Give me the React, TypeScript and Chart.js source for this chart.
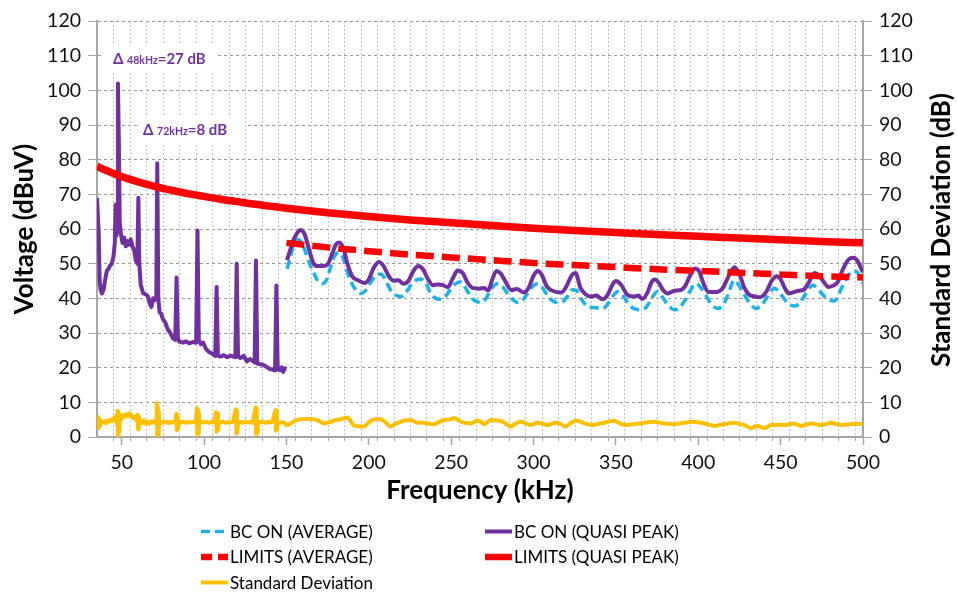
import React, { useEffect, useRef } from "react";
import { Chart, registerables } from "chart.js";

Chart.register(...registerables);

const FONT = "Lato, 'Open Sans', 'DejaVu Sans', sans-serif";

const PURPLE = "#7030A0";
const BLUE = "#1DB1EC";
const RED = "#FF0000";
const YELLOW = "#FFC000";

// Frequency axis (kHz)
const FREQ_MIN = 35;
const FREQ_MAX = 500;
const FREQ_TICKS = [50, 100, 150, 200, 250, 300, 350, 400, 450, 500];
const FREQ_MINOR_GRID = [
  45, 55, 65, 75, 85, 95, 105, 115, 125, 135, 145, 155, 165, 175, 185, 195,
  205, 215, 225, 235, 245, 255, 265, 275, 285, 295, 305, 315, 325, 335, 345,
  355, 365, 375, 385, 395, 405, 415, 425, 435, 445, 455, 465, 475, 485, 495,
];
// Level axes (dBuV left, dB right)
const LEVEL_TICKS = [0, 10, 20, 30, 40, 50, 60, 70, 80, 90, 100, 110, 120];

// BC ON quasi-peak, 35–150 kHz: switching harmonics every 12 kHz
const qpLowBand: [number, number][] = [
  [35, 69], [35.6, 69], [36.1, 58], [36.6, 45], [37.2, 42.5], [38, 41.4],
  [39, 42.5], [40, 45.5], [41, 48], [42, 48.5], [43, 49.5], [44, 50],
  [45, 52], [45.8, 56], [46.3, 67], [46.8, 58], [47.2, 60], [47.7, 102],
  [48.3, 84], [48.8, 62], [49.5, 58.5], [50.5, 56], [51.5, 57.5], [52.5, 55],
  [53.5, 56.5], [54.5, 55.5], [55.5, 57], [56.5, 55], [57.5, 54], [58.5, 51],
  [59.5, 50], [60.1, 69], [60.7, 50], [61.5, 44], [63, 41.5], [64, 41.3],
  [65, 41], [66, 40.5], [67, 38.5], [68, 37.5], [69, 40], [70, 39.5],
  [71, 40.5], [71.6, 79], [72.2, 40], [73, 36], [74, 35.5], [75, 34],
  [76.5, 33], [78, 31], [79.5, 30], [81, 28.5], [82.5, 28], [83.3, 46],
  [84.1, 28.5], [85, 27.5], [87, 27.2], [89, 27.6], [91, 27], [93, 27.4],
  [95.2, 27.2], [96, 59.6], [96.8, 28], [98, 26.8], [99.5, 27.2], [101, 25.5],
  [103, 24.5], [105, 24], [106.8, 23.4], [107.6, 43.3], [108.4, 23.4],
  [110, 23.2], [112, 23.6], [114, 23], [116, 23.5], [119, 23], [119.8, 50],
  [120.6, 23.2], [122, 22.8], [124, 23.4], [126, 21.8], [128, 22.5],
  [130.7, 21.5], [131.5, 50.9], [132.3, 21.2], [134, 21], [136, 20.8],
  [138, 20.2], [140, 19.6], [143.1, 19.2], [143.9, 43.7], [144.7, 19.5],
  [146, 19.3], [147, 20.1], [148, 18.8], [149, 19.8], [150, 19.6],
];

// BC ON quasi-peak, 150–500 kHz
const qpHighBand: [number, number][] = [
  [150.3, 51], [152, 53.5], [154, 56.5], [156.5, 58.8], [158.5, 59.7],
  [161, 58.5], [163.5, 54.5], [166.5, 50], [169, 49.3], [172, 49.3],
  [175, 49.8], [177.5, 52.5], [180, 55.5], [182, 56.1], [184.5, 54.5],
  [187, 50], [190, 46.3], [194, 45.1], [197.5, 44.4], [200, 45.5],
  [203, 48.8], [206, 50.5], [209, 49.3], [212, 46.5], [215, 45.1],
  [218, 45.2], [221, 44.2], [224, 45], [227, 47.8], [230, 49.3], [233, 48.3],
  [236, 45.5], [239, 43.8], [242, 44], [245, 43.8], [248, 43.2], [251, 45.8],
  [254, 48], [257, 47.3], [260, 44.5], [263, 43], [267, 42.8], [270, 43],
  [272.5, 42.3], [275, 45.5], [277.5, 47.9], [280, 47.2], [283, 44.8],
  [286.5, 42.4], [290, 42.7], [294, 41.7], [297, 43], [300, 46.5],
  [302.5, 47.9], [305, 46.8], [308, 43.5], [311, 42.3], [314, 41.8],
  [317, 41.7], [320, 43.5], [323, 46.5], [325.5, 47.3], [328.5, 43],
  [331.5, 41.2], [335, 40.5], [338, 40.8], [342, 39.7], [345, 41], [348, 44],
  [350, 45], [353, 44], [357, 41], [361, 40.5], [363.5, 40.8], [366, 39.8],
  [369, 41.5], [371.5, 44.5], [373.5, 45.4], [376, 44.5], [378.5, 42.5],
  [381.5, 41.4], [385.5, 42.2], [389.5, 42.4], [392, 43.5], [395, 46.5],
  [398, 48.6], [400.5, 47.8], [403, 44.5], [406, 41.9], [409, 41.8],
  [412, 41.9], [415, 43], [418, 46], [422, 49], [425, 47], [428, 43],
  [431, 41], [434, 40.6], [436.5, 40.3], [439, 40.6], [442, 42.5],
  [444.5, 45], [447.5, 46.4], [450, 45.5], [452.5, 43], [455, 41.4],
  [458, 41.8], [461, 42.2], [464, 42.5], [467, 44.5], [470.5, 47.3],
  [473.5, 46.5], [476.5, 44.5], [479, 43.3], [482.5, 43.8], [485, 45],
  [487, 47.5], [489.5, 50], [492, 51.5], [494.5, 51.7], [497, 50.5],
  [499, 48.5], [500, 47.6],
];

// BC ON average, 150–500 kHz
const avgHighBand: [number, number][] = [
  [150.3, 48.5], [152, 51], [154, 55], [156.5, 57], [159, 56.3], [161.5, 53.5],
  [164, 50], [166.5, 47.5], [169, 45], [171.5, 44.2], [174, 45], [176.5, 48.5],
  [179, 52], [181.8, 53.2], [184.5, 51.5], [187, 47.5], [190, 44], [193, 42],
  [195.5, 41.4], [198, 42.2], [201, 44.5], [204, 46.5], [207, 47],
  [210, 45.5], [213, 42.5], [216, 41], [219.3, 40.5], [222, 41.2],
  [225, 43.5], [228, 45], [231.4, 45.6], [234.5, 44.5], [237.5, 41.5],
  [240.5, 40], [243.5, 39.7], [246.5, 40.5], [249.5, 42.5], [252.5, 44.2],
  [255.7, 44.7], [258.5, 43.2], [261.5, 40.8], [264.5, 39.3], [268, 38.8],
  [271, 39.8], [274, 42.5], [278, 44.2], [281, 43.5], [284, 41.5],
  [287, 39.8], [290.2, 38.8], [293.5, 39.5], [296.5, 41.5], [299.5, 43.5],
  [302.4, 44.2], [305.5, 43], [308.5, 40.8], [311.5, 39.3], [314.6, 38.8],
  [317.5, 39], [320.5, 40.5], [323.5, 42.5], [326, 42.3], [329, 39.8],
  [332, 38], [335, 37.4], [338, 37.3], [342, 37.1], [345, 38.3], [348, 40.5],
  [351, 41.9], [354, 41], [357, 38.8], [360, 37.3], [363, 36.8],
  [365.5, 36.7], [368.5, 37.5], [371.5, 39.8], [375, 41.9], [378, 40.5],
  [381.5, 38.1], [385.5, 36.7], [389, 37.5], [392, 39.5], [395.5, 42.5],
  [398.7, 44.3], [402, 42.8], [405.7, 40], [408.5, 38], [411.8, 37.1],
  [415, 38], [418, 41], [421.9, 45.2], [425, 43.5], [428, 41], [431, 38.8],
  [435, 37.1], [438.5, 38], [442, 40.5], [446.3, 42.9], [450, 41.2],
  [454.4, 38.6], [458.5, 37.8], [461.5, 38.5], [465, 41.2], [469.6, 43.8],
  [473, 42.5], [476.7, 40.5], [479.5, 39.5], [482, 39.2], [484.5, 40.2],
  [486.5, 42.5], [489, 44.8], [491.5, 46.8], [494, 47.9], [496.5, 47.5],
  [499, 45.5], [500, 44.3],
];

// Conducted emission limits
const limitQuasiPeak: [number, number][] = [
  [35, 78.1], [40, 77.0], [50, 75.1], [60, 73.6], [70, 72.3], [80, 71.2],
  [90, 70.2], [100, 69.4], [110, 68.6], [120, 67.9], [130, 67.2],
  [140, 66.6], [150, 66.0], [175, 64.7], [200, 63.6], [225, 62.6],
  [250, 61.8], [275, 61.0], [300, 60.2], [325, 59.6], [350, 59.0],
  [375, 58.4], [400, 57.9], [425, 57.4], [450, 56.9], [475, 56.4], [500, 56.0],
];
const limitAverage: [number, number][] = [
  [150, 56.0], [175, 54.7], [200, 53.6], [225, 52.6], [250, 51.8],
  [275, 51.0], [300, 50.2], [325, 49.6], [350, 49.0], [375, 48.4],
  [400, 47.9], [425, 47.4], [450, 46.9], [475, 46.4], [500, 46.0],
];

// Standard deviation (dB), right axis
const stdDevLowBand: [number, number][] = [
  [35, 4.2], [35.6, 5.8], [36, 2.6], [36.4, 5.2], [36.9, 3.2], [37.5, 4.6],
  [38.5, 4.2], [39.5, 4.5], [40.5, 4.0], [41.5, 4.7], [42.5, 4.4], [43.5, 5.0],
  [44.5, 4.6], [45.5, 5.6], [46.3, 5.0], [46.8, 6.2], [47.2, 3.5], [47.5, 7.6],
  [47.8, 0.3], [48.1, 7.2], [48.4, 1.5], [48.7, 6.5], [49.2, 4.8], [50, 5.6],
  [51, 6.3], [52, 5.8], [53, 6.6], [54, 6.1], [55, 6.8], [56, 6.0], [57, 5.4],
  [58, 5.9], [59, 4.8], [59.6, 6.4], [60, 2.2], [60.4, 6.0], [60.9, 3.5],
  [61.5, 4.6], [62.5, 4.1], [63.5, 4.8], [64.5, 3.9], [65.5, 4.4], [66.5, 3.8],
  [67.5, 4.5], [68.5, 4.1], [69.5, 4.6], [70.5, 4.2], [71, 4.6], [71.3, 9.7],
  [71.6, 0.1], [71.9, 8.8], [72.2, 0.8], [72.5, 7.5], [72.9, 3.5], [73.5, 4.4],
  [74.5, 4.1], [75.5, 4.5], [76.5, 4.2], [77.5, 4.4], [78.5, 4.0], [79.5, 4.4],
  [80.5, 4.2], [81.5, 4.5], [82.5, 4.1], [83.1, 6.6], [83.5, 2.0], [83.9, 6.2],
  [84.3, 2.6], [84.8, 4.4], [86, 4.2], [87.5, 4.4], [89, 4.1], [90.5, 4.3],
  [92, 4.2], [93.5, 4.4], [95, 4.1], [95.6, 8.3], [95.9, 0.6], [96.2, 8.0],
  [96.5, 1.2], [96.8, 7.2], [97.2, 4.0], [98.5, 4.4], [100, 4.2], [101.5, 4.3],
  [103, 4.1], [104.5, 4.4], [106, 4.2], [107.2, 7.1], [107.6, 1.5], [108, 6.8],
  [108.4, 2.0], [108.8, 4.3], [110, 4.2], [111.5, 4.4], [113, 4.1],
  [114.5, 4.3], [116, 4.2], [117.5, 4.4], [119.3, 8.0], [119.6, 1.1],
  [119.9, 7.6], [120.2, 1.6], [120.6, 4.2], [122, 4.3], [123.5, 4.1],
  [125, 4.4], [126.5, 4.2], [128, 4.3], [129.5, 4.1], [131.3, 8.6],
  [131.6, 0.9], [131.9, 8.2], [132.2, 1.4], [132.6, 4.3], [134, 4.2],
  [135.5, 4.4], [137, 4.1], [138.5, 4.3], [140, 4.2], [141.5, 4.4],
  [143.3, 7.8], [143.6, 1.8], [143.9, 7.4], [144.2, 2.2], [144.6, 4.3],
  [146, 4.1], [147.5, 4.3], [149, 4.0], [150, 3.2],
];
const stdDevHighBand: [number, number][] = [
  [150, 3.2], [153, 4.0], [155.5, 4.8], [158.5, 5.1], [162, 5.2], [166.6, 5.1],
  [170, 4.6], [172.7, 3.9], [176.7, 4.4], [180, 4.9], [182.8, 5.1],
  [186.9, 5.6], [190.9, 3.4], [194, 3.1], [197, 3.0], [200, 4.2], [203.1, 5.1],
  [207.1, 5.1], [210, 4.3], [213.2, 3.0], [216, 3.8], [219.3, 4.4], [222, 4.8],
  [225.4, 4.9], [229.4, 4.1], [232, 4.2], [235.5, 3.9], [239.6, 3.7],
  [242.5, 4.3], [245.7, 4.9], [249.7, 5.1], [251.7, 5.5], [255.8, 4.4],
  [258.5, 4.1], [261.9, 3.9], [265.9, 4.7], [268, 4.4], [270, 3.7], [274, 4.9],
  [277, 4.8], [280.1, 4.7], [283, 3.9], [286.2, 3.0], [289, 3.9], [292.2, 4.4],
  [295, 4.0], [298.3, 3.45], [302.4, 4.1], [305, 3.9], [308.5, 3.45],
  [311.5, 3.9], [314.5, 4.1], [317, 3.6], [319.6, 3.0], [322.5, 4.0],
  [325.7, 4.7], [328, 4.5], [330.8, 3.9], [333.5, 3.6], [336.8, 3.45],
  [340, 3.9], [342.9, 4.1], [346, 4.5], [349, 4.7], [352, 4.0], [355.1, 3.45],
  [358, 3.6], [361.2, 3.7], [364, 3.9], [367.3, 4.1], [370, 4.3], [373.3, 4.4],
  [376.5, 4.1], [379.4, 3.9], [382.5, 3.8], [385.5, 3.7], [388.5, 3.9],
  [391.6, 4.1], [394.5, 4.3], [397.7, 4.4], [400.5, 4.2], [403.8, 3.9],
  [407, 3.5], [409.9, 3.2], [413, 3.5], [415.9, 3.7], [419, 4.0], [422, 4.1],
  [425, 3.8], [428.1, 3.45], [432.2, 2.5], [434, 2.9], [436.2, 3.2],
  [438, 2.9], [440.3, 2.5], [442.5, 3.1], [444.4, 3.45], [448.5, 3.5],
  [452.5, 3.45], [455.5, 3.7], [458.6, 3.9], [460.5, 3.5], [462.6, 3.2],
  [465.5, 3.6], [468.7, 3.9], [471.5, 3.7], [474.8, 3.45], [478, 3.8],
  [480.9, 4.1], [484, 3.7], [487, 3.45], [490, 3.6], [493.1, 3.7], [497, 3.8],
  [500, 3.7],
];

// Legend entries, laid out two per row
const LEGEND_ITEMS = [
  { label: "BC ON (AVERAGE)", color: BLUE, width: 3.5, dash: [9, 5] },
  { label: "BC ON (QUASI PEAK)", color: PURPLE, width: 4, dash: [] as number[] },
  { label: "LIMITS (AVERAGE)", color: RED, width: 6.5, dash: [11, 6] },
  { label: "LIMITS (QUASI PEAK)", color: RED, width: 6.5, dash: [] as number[] },
  { label: "Standard Deviation", color: YELLOW, width: 4, dash: [] as number[] },
];

// Callouts: delta between BC OFF and BC ON at two harmonics
const CALLOUTS = [
  { freq: "48kHz", delta: "=27 dB" },
  { freq: "72kHz", delta: "=8 dB" },
];

const toPoints = (pairs: [number, number][]) => pairs.map(([x, y]) => ({ x, y }));

const minorGridPlugin = {
  id: "minorGrid",
  beforeDatasetsDraw(chart: any) {
    const { ctx, chartArea, scales } = chart;
    const x = scales.x;
    ctx.save();
    ctx.lineWidth = 1;
    for (const f of FREQ_MINOR_GRID) {
      const px = Math.round(x.getPixelForValue(f)) + 0.5;
      ctx.strokeStyle = "#c4c4c4";
      ctx.setLineDash([2, 2]);
      ctx.beginPath();
      ctx.moveTo(px, chartArea.top);
      ctx.lineTo(px, chartArea.bottom);
      ctx.stroke();
      ctx.setLineDash([]);
      ctx.strokeStyle = "#a6a6a6";
      ctx.beginPath();
      ctx.moveTo(px, chartArea.bottom);
      ctx.lineTo(px, chartArea.bottom + 4);
      ctx.stroke();
    }
    ctx.restore();
  },
};

const decorPlugin = {
  id: "decor",
  afterDatasetsDraw(chart: any) {
    const { ctx } = chart;
    ctx.save();
    // callout boxes
    const boxes = [
      { x: 101, y: 45, w: 116, h: 27, tx: 113, ty: 64 },
      { x: 137, y: 115, w: 108, h: 29, tx: 143, ty: 135 },
    ];
    boxes.forEach((b, i) => {
      ctx.fillStyle = "#ffffff";
      ctx.fillRect(b.x, b.y, b.w, b.h);
      ctx.fillStyle = PURPLE;
      ctx.textBaseline = "alphabetic";
      ctx.textAlign = "left";
      let cx = b.tx;
      ctx.font = `bold 15px ${FONT}`;
      ctx.fillText("\u0394 ", cx, b.ty);
      cx += ctx.measureText("\u0394 ").width;
      ctx.font = `bold 10.5px ${FONT}`;
      ctx.fillText(CALLOUTS[i].freq, cx, b.ty);
      cx += ctx.measureText(CALLOUTS[i].freq).width;
      ctx.font = `bold 15px ${FONT}`;
      ctx.fillText(CALLOUTS[i].delta, cx, b.ty);
    });
    ctx.restore();
  },
  afterDraw(chart: any) {
    const { ctx, chartArea } = chart;
    ctx.save();
    // right axis title, reading bottom to top
    ctx.translate(942, (chartArea.top + chartArea.bottom) / 2 + 1);
    ctx.rotate(-Math.PI / 2);
    ctx.font = `bold 26px ${FONT}`;
    ctx.fillStyle = "#000";
    ctx.textAlign = "center";
    ctx.textBaseline = "middle";
    ctx.fillText("Standard Deviation (dB)", 0, 0);
    ctx.restore();

    // legend
    ctx.save();
    const cols = [201, 485];
    const rows = [531.5, 557, 582.5];
    ctx.font = `17px ${FONT}`;
    ctx.textBaseline = "middle";
    ctx.textAlign = "left";
    LEGEND_ITEMS.forEach((item, i) => {
      const x0 = cols[i % 2];
      const y0 = rows[Math.floor(i / 2)];
      ctx.strokeStyle = item.color;
      ctx.lineWidth = item.width;
      ctx.setLineDash(item.dash);
      ctx.lineCap = "butt";
      ctx.beginPath();
      ctx.moveTo(x0, y0);
      ctx.lineTo(x0 + 27, y0);
      ctx.stroke();
      ctx.setLineDash([]);
      ctx.fillStyle = "#000";
      ctx.fillText(item.label, x0 + 29, y0 + 1);
    });
    ctx.restore();
  },
};

export default function App() {
  const canvasRef = useRef<HTMLCanvasElement | null>(null);

  useEffect(() => {
    const canvas = canvasRef.current;
    if (!canvas) return;

    const line = {
      pointRadius: 0,
      pointHoverRadius: 0,
      fill: false,
    };

    const chart = new Chart(canvas, {
      type: "line",
      data: {
        datasets: [
          {
            ...line,
            label: "BC ON (AVERAGE)",
            data: toPoints(avgHighBand),
            borderColor: BLUE,
            borderWidth: 3.5,
            borderDash: [9, 5],
            cubicInterpolationMode: "monotone",
            yAxisID: "y",
            order: 6,
          },
          {
            ...line,
            label: "BC ON (QUASI PEAK)",
            data: toPoints(qpLowBand),
            borderColor: PURPLE,
            borderWidth: 4,
            borderJoinStyle: "round",
            tension: 0,
            yAxisID: "y",
            order: 5,
          },
          {
            ...line,
            label: "BC ON (QUASI PEAK)",
            data: toPoints(qpHighBand),
            borderColor: PURPLE,
            borderWidth: 4,
            cubicInterpolationMode: "monotone",
            yAxisID: "y",
            order: 5,
          },
          {
            ...line,
            label: "LIMITS (AVERAGE)",
            data: toPoints(limitAverage),
            borderColor: RED,
            borderWidth: 6.5,
            borderDash: [18, 8],
            cubicInterpolationMode: "monotone",
            yAxisID: "y",
            order: 3,
          },
          {
            ...line,
            label: "LIMITS (QUASI PEAK)",
            data: toPoints(limitQuasiPeak),
            borderColor: RED,
            borderWidth: 7.5,
            cubicInterpolationMode: "monotone",
            yAxisID: "y",
            order: 2,
          },
          {
            ...line,
            label: "Standard Deviation",
            data: toPoints(stdDevLowBand),
            borderColor: YELLOW,
            borderWidth: 4,
            borderJoinStyle: "round",
            tension: 0,
            yAxisID: "y2",
            order: 1,
          },
          {
            ...line,
            label: "Standard Deviation",
            data: toPoints(stdDevHighBand),
            borderColor: YELLOW,
            borderWidth: 4,
            cubicInterpolationMode: "monotone",
            yAxisID: "y2",
            order: 1,
          },
        ],
      },
      options: {
        responsive: false,
        animation: false,
        events: [],
        layout: { padding: { top: 21, left: 0, right: 0, bottom: 0 } },
        plugins: {
          legend: { display: false },
          tooltip: { enabled: false },
          title: { display: false },
        },
        scales: {
          x: {
            type: "linear",
            min: FREQ_MIN,
            max: FREQ_MAX,
            afterBuildTicks: (s: any) => {
              s.ticks = FREQ_TICKS.map((v) => ({ value: v }));
            },
            afterFit: (s: any) => {
              s.height = 155;
            },
            grid: {
              drawOnChartArea: false,
              drawTicks: true,
              tickLength: 8,
              tickColor: "#a6a6a6",
              tickWidth: 1.5,
              tickBorderDash: [],
            },
            border: { display: true, color: "#a6a6a6", width: 2 },
            ticks: {
              padding: 6,
              autoSkip: false,
              maxRotation: 0,
              color: "#111",
              font: { family: FONT, size: 19.5 },
            },
            title: {
              display: true,
              text: "Frequency (kHz)",
              color: "#000",
              font: { family: FONT, size: 26, weight: "bold" },
              padding: { top: 0, bottom: 86 },
            },
          },
          y: {
            position: "left",
            min: 0,
            max: 120,
            afterBuildTicks: (s: any) => {
              s.ticks = LEVEL_TICKS.map((v) => ({ value: v }));
            },
            afterFit: (s: any) => {
              s.width = 97;
            },
            grid: {
              color: "#9a9a9a",
              lineWidth: 1,
              tickLength: 9,
              tickColor: "#a6a6a6",
              tickBorderDash: [],
            },
            border: { display: true, color: "#a6a6a6", width: 2, dash: [3, 3] },
            ticks: {
              padding: 7,
              color: "#111",
              font: { family: FONT, size: 19.5 },
            },
            title: {
              display: true,
              text: "Voltage (dBuV)",
              color: "#000",
              font: { family: FONT, size: 26, weight: "bold" },
              padding: { top: 9, bottom: 0 },
            },
          },
          y2: {
            position: "right",
            min: 0,
            max: 120,
            afterBuildTicks: (s: any) => {
              s.ticks = LEVEL_TICKS.map((v) => ({ value: v }));
            },
            afterFit: (s: any) => {
              s.width = 94;
            },
            grid: {
              drawOnChartArea: false,
              tickLength: 9,
              tickColor: "#a6a6a6",
              tickBorderDash: [],
            },
            border: { display: true, color: "#a6a6a6", width: 2 },
            ticks: {
              padding: 7,
              color: "#111",
              font: { family: FONT, size: 19.5 },
            },
          },
        },
      },
      plugins: [minorGridPlugin, decorPlugin],
    } as any);

    return () => chart.destroy();
  }, []);

  return (
    <div
      style={{
        position: "fixed",
        left: 0,
        top: 0,
        width: 957,
        height: 592,
        background: "#ffffff",
      }}
    >
      <canvas ref={canvasRef} width={957} height={592} />
    </div>
  );
}
